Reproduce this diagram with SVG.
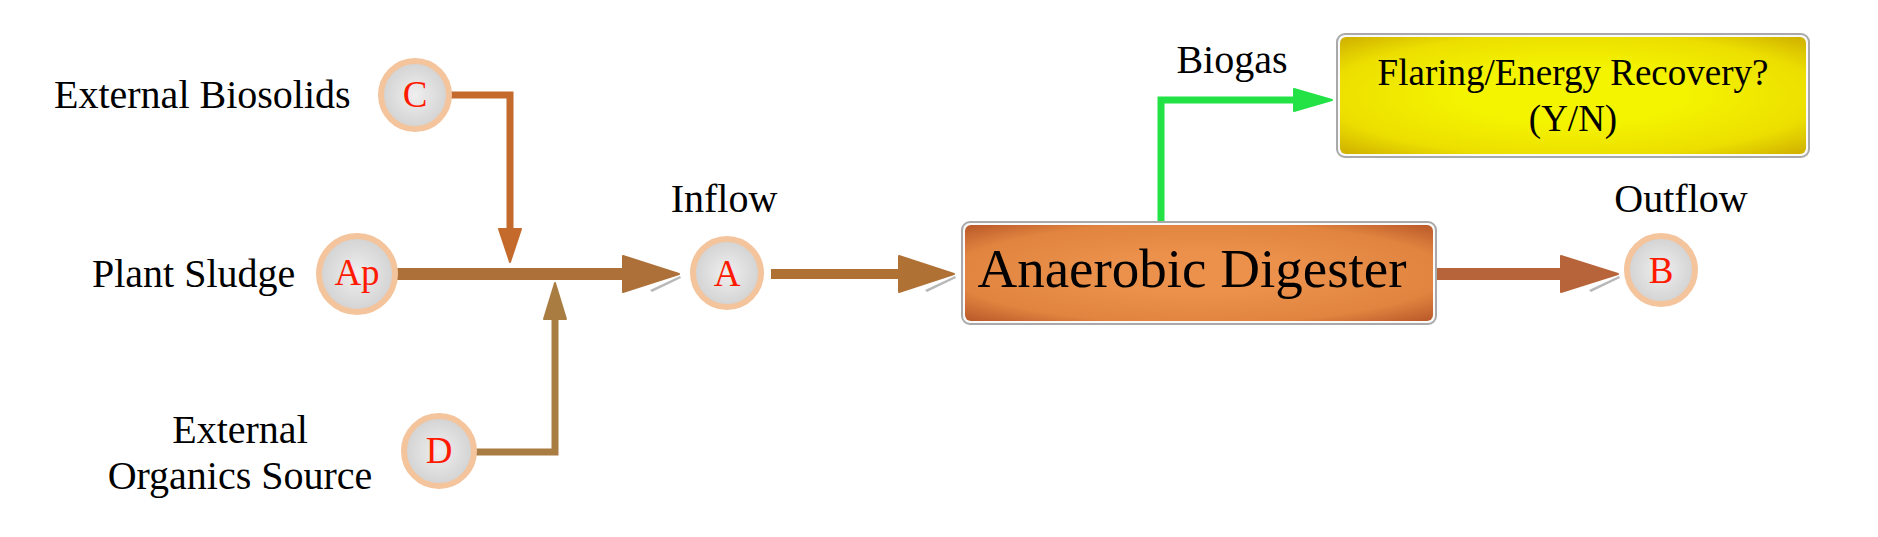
<svg xmlns="http://www.w3.org/2000/svg" width="1878" height="537" viewBox="0 0 1878 537">
<defs>
<radialGradient id="gCirc" cx="50%" cy="50%" r="50%">
<stop offset="0" stop-color="#efefef"/>
<stop offset="1" stop-color="#d2d2d2"/>
</radialGradient>
<radialGradient id="gOrange" cx="50%" cy="50%" r="70%">
<stop offset="0.3" stop-color="#eb914c"/>
<stop offset="0.75" stop-color="#e0843f"/>
<stop offset="1" stop-color="#b9592a"/>
</radialGradient>
<radialGradient id="gYellow" cx="50%" cy="50%" r="70%">
<stop offset="0.35" stop-color="#f4f300"/>
<stop offset="0.75" stop-color="#ecdf00"/>
<stop offset="1" stop-color="#cfb000"/>
</radialGradient>
</defs>
<style>
.lbl{font-family:"Liberation Serif","Times New Roman",serif;font-size:40px;fill:#000}
.nl{font-family:"Liberation Serif","Times New Roman",serif;font-size:37px;fill:#ff1a00;text-anchor:middle}
.ring{fill:url(#gCirc);stroke:#f4c49d;stroke-width:6}
.shd{fill:#9a9a9a;opacity:0.7}
.ln{fill:none;stroke-linejoin:miter}
.hd{stroke-linejoin:round;stroke-width:2}
</style>
<rect width="1878" height="537" fill="#fff"/>

<g id="labels">
<text class="lbl" x="54" y="108">External Biosolids</text>
<text class="lbl" x="92" y="287">Plant Sludge</text>
<text class="lbl" x="240" y="443" text-anchor="middle">External</text>
<text class="lbl" x="240" y="489" text-anchor="middle">Organics Source</text>
<text class="lbl" x="724" y="212" text-anchor="middle">Inflow</text>
<text class="lbl" x="1681" y="212" text-anchor="middle">Outflow</text>
<text class="lbl" x="1232" y="73" text-anchor="middle">Biogas</text>
</g>

<g id="connectors">
<!-- C -->
<path class="ln" d="M447,95 H510 V232" stroke="#c46a2c" stroke-width="7"/>
<polygon class="hd" points="499,229 521,229 510,262" fill="#c46a2c" stroke="#c46a2c"/>
<!-- Ap to A -->
<path class="shd" d="M650,290 L680,276 L681,278 L652,292 Z"/>
<line x1="397" y1="274" x2="624" y2="274" stroke="#ad7038" stroke-width="12"/>
<polygon class="hd" points="623,256 679,274 623,292" fill="#ad7038" stroke="#ad7038"/>
<!-- D -->
<path class="ln" d="M473,452 H555 V318" stroke="#a97d42" stroke-width="7"/>
<polygon class="hd" points="544,319 566,319 555,283" fill="#a97d42" stroke="#a97d42"/>
<!-- A to Digester -->
<path class="shd" d="M925,290 L955,276 L956,278 L927,292 Z"/>
<line x1="771" y1="274" x2="900" y2="274" stroke="#b07135" stroke-width="10"/>
<polygon class="hd" points="899,256 954,274 899,292" fill="#b07135" stroke="#b07135"/>
<!-- Digester to B -->
<path class="shd" d="M1589,290 L1619,276 L1620,278 L1591,292 Z"/>
<line x1="1437" y1="274" x2="1562" y2="274" stroke="#b8643a" stroke-width="12"/>
<polygon class="hd" points="1561,256 1618,274 1561,292" fill="#b8643a" stroke="#b8643a"/>
<!-- Biogas -->
<path class="ln" d="M1161,221 V100 H1295" stroke="#22e246" stroke-width="7"/>
<polygon class="hd" points="1294,89 1332,100 1294,111" fill="#22e246" stroke="#22e246"/>
</g>

<g id="node-C"><circle class="ring" cx="415" cy="95" r="34"/><text class="nl" x="415" y="107">C</text></g>
<g id="node-Ap"><circle class="ring" cx="357" cy="274" r="38"/><text class="nl" x="357" y="285">Ap</text></g>
<g id="node-D"><circle class="ring" cx="439" cy="451" r="35"/><text class="nl" x="439" y="463">D</text></g>
<g id="node-A"><circle class="ring" cx="727" cy="273" r="34"/><text class="nl" x="727" y="286">A</text></g>
<g id="node-B"><circle class="ring" cx="1661" cy="270" r="34"/><text class="nl" x="1661" y="283">B</text></g>

<g id="node-digester">
<rect x="962" y="222" width="474" height="102" rx="8" fill="#fafafa" stroke="#a9a9a9" stroke-width="2"/>
<rect x="965" y="225" width="468" height="96" rx="6" fill="url(#gOrange)"/>
<text x="1192" y="287" text-anchor="middle" style="font-family:'Liberation Serif','Times New Roman',serif;font-size:55px;fill:#000">Anaerobic Digester</text>
</g>

<g id="node-flaring">
<rect x="1337" y="34" width="472" height="123" rx="8" fill="#fafafa" stroke="#a9a9a9" stroke-width="2"/>
<rect x="1340" y="37" width="466" height="117" rx="6" fill="url(#gYellow)"/>
<text x="1573" y="85" text-anchor="middle" style="font-family:'Liberation Serif','Times New Roman',serif;font-size:37px;fill:#000">Flaring/Energy Recovery?</text>
<text x="1573" y="131" text-anchor="middle" style="font-family:'Liberation Serif','Times New Roman',serif;font-size:37px;fill:#000">(Y/N)</text>
</g>
</svg>
